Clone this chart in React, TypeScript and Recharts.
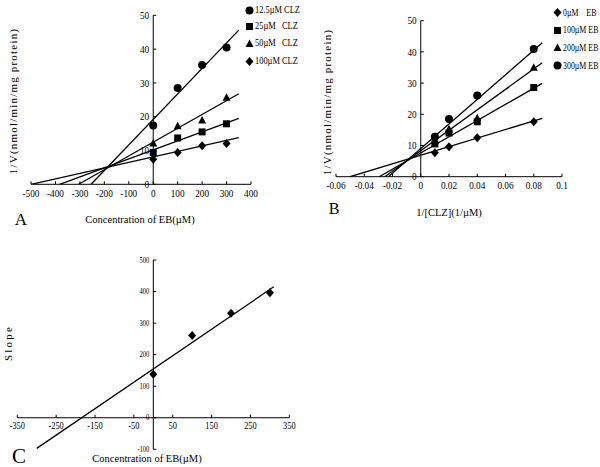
import React from 'react';
import { ScatterChart, Scatter, XAxis, YAxis, ReferenceLine } from 'recharts';

const FONT = '"Liberation Serif", "Times New Roman", serif';

// Panel A: 1/V against EB concentration, one series per CLZ level
const ebConc = [0, 100, 200, 300];
const clz125 = [17.4, 28.5, 35.3, 40.5];
const clz25 = [9.4, 13.7, 15.5, 17.9];
const clz50 = [12.1, 17.2, 18.9, 25.6];
const clz100 = [7.4, 9.4, 11.4, 12.1];
const aXTicks = [-500, -400, -300, -200, -100, 0, 100, 200, 300, 400];
const aYTicks = [0, 10, 20, 30, 40, 50];
// fitted lines as [x, y] end points
const fitClz125 = [[-254, 0], [350, 45.6]];
const fitClz25 = [[-383, 0], [350, 19.5]];
const fitClz50 = [[-305, 0], [350, 26.8]];
const fitClz100 = [[-500, 0], [350, 13.8]];

// Panel B: 1/V against 1/[CLZ], one series per EB level
const invClz = [0.01, 0.02, 0.04, 0.08];
const eb0 = [7.7, 9.6, 12.5, 17.6];
const eb100 = [10.5, 14.0, 17.6, 28.6];
const eb200 = [11.5, 15.2, 18.7, 34.9];
const eb300 = [12.8, 18.5, 26.0, 40.9];
const bXTicks = [-0.06, -0.04, -0.02, 0, 0.02, 0.04, 0.06, 0.08, 0.1];
const bYTicks = [0, 10, 20, 30, 40, 50];
const fitEb0 = [[-0.05, 0], [0.086, 18.7]];
const fitEb100 = [[-0.0294, 0], [0.086, 29.9]];
const fitEb200 = [[-0.0255, 0], [0.086, 36.5]];
const fitEb300 = [[-0.0229, 0], [0.086, 42.9]];

// Panel C: slope replot
const slopeConc = [0, 100, 200, 300];
const slopes = [138, 261, 331, 396];
const cXTicks = [-350, -250, -150, -50, 50, 150, 250, 350];
const cYTicks = [-100, 0, 100, 200, 300, 400, 500];
const fitSlope = [[-300, -97], [310, 415]];

const pts = (xs: number[], ys: number[]) => xs.map((x, i) => ({ x, y: ys[i] }));
const seg = (p: number[][]) => p.map(([x, y]) => ({ x, y }));

const Circle = (p: any) => <circle cx={p.cx} cy={p.cy} r={4} fill="#000" />;
const Square = (p: any) => <rect x={p.cx - 3.5} y={p.cy - 3.5} width={7} height={7} fill="#000" />;
const Triangle = (p: any) => (
  <polygon points={`${p.cx},${p.cy - 4.5} ${p.cx + 4},${p.cy + 3} ${p.cx - 4},${p.cy + 3}`} fill="#000" />
);
const Diamond = (p: any) => (
  <polygon points={`${p.cx},${p.cy - 4.5} ${p.cx + 4},${p.cy} ${p.cx},${p.cy + 4.5} ${p.cx - 4},${p.cy}`} fill="#000" />
);
const NoDot = () => <g />;

interface PanelProps {
  left: number;
  top: number;
  width: number;
  height: number;
  margin: { top: number; right: number; bottom: number; left: number };
  xDomain: [number, number];
  yDomain: [number, number];
  xTicks: number[];
  yTicks: number[];
  xFont: number;
  yFont: number;
  series: { data: { x: number; y: number }[]; shape: any }[];
  fits: { x: number; y: number }[][];
}

// axes cross at zero, so ticks are drawn next to the zero lines rather than the plot edges
function Panel({ left, top, width, height, margin, xDomain, yDomain, xTicks, yTicks, xFont, yFont, series, fits }: PanelProps) {
  const plotW = width - margin.left - margin.right;
  const plotH = height - margin.top - margin.bottom;
  const zeroX = margin.left + ((0 - xDomain[0]) / (xDomain[1] - xDomain[0])) * plotW;
  const zeroY = margin.top + ((yDomain[1] - 0) / (yDomain[1] - yDomain[0])) * plotH;

  const XTick = (props: any) => (
    <g>
      <line x1={props.x} x2={props.x} y1={zeroY} y2={zeroY - 3} stroke="#000" />
      <text
        x={props.x}
        y={zeroY + 4 + xFont * 0.8}
        textAnchor="middle"
        fontSize={xFont}
        fontFamily={FONT}
        fill="#000"
        transform={`translate(${props.x} 0) scale(0.88 1) translate(${-props.x} 0)`}
      >
        {props.payload.value}
      </text>
    </g>
  );
  const YTick = (props: any) => (
    <g>
      <line x1={zeroX} x2={zeroX + 3} y1={props.y} y2={props.y} stroke="#000" />
      <text
        x={zeroX - 4}
        y={props.y + yFont * 0.35}
        textAnchor="end"
        fontSize={yFont}
        fontFamily={FONT}
        fill="#000"
        transform={`translate(${zeroX - 4} 0) scale(0.88 1) translate(${-(zeroX - 4)} 0)`}
      >
        {props.payload.value}
      </text>
    </g>
  );

  return (
    <div style={{ position: 'absolute', left, top }}>
      <ScatterChart width={width} height={height} margin={{ ...margin, left: margin.left - 1, bottom: margin.bottom - 1 }}>
        <XAxis
          type="number"
          dataKey="x"
          domain={xDomain}
          ticks={xTicks}
          interval={0}
          height={1}
          axisLine={false}
          tickLine={false}
          tickSize={0}
          tickMargin={0}
          tick={<XTick />}
          allowDataOverflow
        />
        <YAxis
          type="number"
          dataKey="y"
          domain={yDomain}
          ticks={yTicks}
          interval={0}
          width={1}
          axisLine={false}
          tickLine={false}
          tickSize={0}
          tickMargin={0}
          tick={<YTick />}
          allowDataOverflow
        />
        <ReferenceLine x={0} stroke="#000" strokeWidth={1} />
        <ReferenceLine y={0} stroke="#000" strokeWidth={1} />
        {fits.map((f, i) => (
          <Scatter
            key={'f' + i}
            data={f}
            line={{ stroke: '#000', strokeWidth: 1.3 }}
            shape={NoDot}
            isAnimationActive={false}
          />
        ))}
        {series.map((s, i) => (
          <Scatter key={'s' + i} data={s.data} shape={s.shape} isAnimationActive={false} />
        ))}
      </ScatterChart>
    </div>
  );
}

const textStyle = (cx: number, cy: number, size: number, rotate = false, spacing = 0): React.CSSProperties => ({
  position: 'absolute',
  left: cx,
  top: cy,
  transform: `translate(-50%, -50%)${rotate ? ' rotate(-90deg)' : ''}`,
  fontFamily: FONT,
  fontSize: size,
  letterSpacing: spacing,
  lineHeight: 1,
  whiteSpace: 'pre',
  color: '#000',
});

const Marker = ({ kind }: { kind: string }) => {
  const c = 4.5;
  return (
    <svg width={9} height={9} style={{ display: 'block' }}>
      {kind === 'circle' && <Circle cx={c} cy={c} />}
      {kind === 'square' && <Square cx={c} cy={c} />}
      {kind === 'triangle' && <Triangle cx={c} cy={c + 0.5} />}
      {kind === 'diamond' && <Diamond cx={c} cy={c} />}
    </svg>
  );
};

function LegendBox({ x, rows, gap, squeeze }: { x: number; rows: { kind: string; label: string }[]; gap: number[]; squeeze: number }) {
  return (
    <>
      {rows.map((r, i) => (
        <div key={r.label} style={{ position: 'absolute', left: x - 4.5, top: gap[i] - 5, display: 'flex', alignItems: 'center' }}>
          <Marker kind={r.kind} />
          <span
            style={{
              fontFamily: FONT,
              fontSize: 10.5,
              whiteSpace: 'pre',
              marginLeft: 1,
              lineHeight: 1,
              display: 'inline-block',
              transform: `scaleX(${squeeze})`,
              transformOrigin: 'left center',
            }}
          >
            {r.label}
          </span>
        </div>
      ))}
    </>
  );
}

export default function App() {
  return (
    <div style={{ position: 'absolute', left: 0, top: 0, width: 600, height: 467, background: '#fff', overflow: 'hidden' }}>
      <Panel
        left={0}
        top={0}
        width={300}
        height={230}
        margin={{ top: 15.3, right: 49, bottom: 45.7, left: 31 }}
        xDomain={[-500, 400]}
        yDomain={[0, 50]}
        xTicks={aXTicks}
        yTicks={aYTicks}
        xFont={10.5}
        yFont={10.5}
        fits={[seg(fitClz125), seg(fitClz25), seg(fitClz50), seg(fitClz100)]}
        series={[
          { data: pts(ebConc, clz125), shape: Circle },
          { data: pts(ebConc, clz25), shape: Square },
          { data: pts(ebConc, clz50), shape: Triangle },
          { data: pts(ebConc, clz100), shape: Diamond },
        ]}
      />
      <Panel
        left={300}
        top={0}
        width={300}
        height={230}
        margin={{ top: 20.7, right: 38, bottom: 53.3, left: 36 }}
        xDomain={[-0.06, 0.1]}
        yDomain={[0, 50]}
        xTicks={bXTicks}
        yTicks={bYTicks}
        xFont={10.5}
        yFont={10.5}
        fits={[seg(fitEb0), seg(fitEb100), seg(fitEb200), seg(fitEb300)]}
        series={[
          { data: pts(invClz, eb0), shape: Diamond },
          { data: pts(invClz, eb100), shape: Square },
          { data: pts(invClz, eb200), shape: Triangle },
          { data: pts(invClz, eb300), shape: Circle },
        ]}
      />
      <Panel
        left={0}
        top={230}
        width={300}
        height={237}
        margin={{ top: 30, right: 10.7, bottom: 17.7, left: 17.3 }}
        xDomain={[-350, 350]}
        yDomain={[-100, 500]}
        xTicks={cXTicks}
        yTicks={cYTicks}
        xFont={9.5}
        yFont={7.5}
        fits={[seg(fitSlope)]}
        series={[{ data: pts(slopeConc, slopes), shape: Diamond }]}
      />

      <LegendBox
        x={249}
        squeeze={0.8}
        gap={[10, 26, 43, 61]}
        rows={[
          { kind: 'circle', label: '12.5µM CLZ' },
          { kind: 'square', label: '25µM   CLZ' },
          { kind: 'triangle', label: '50µM   CLZ' },
          { kind: 'diamond', label: '100µM CLZ' },
        ]}
      />
      <LegendBox
        x={557}
        squeeze={0.75}
        gap={[12.5, 30, 47.5, 65.5]}
        rows={[
          { kind: 'diamond', label: '0µM    EB' },
          { kind: 'square', label: '100µM EB' },
          { kind: 'triangle', label: '200µM EB' },
          { kind: 'circle', label: '300µM EB' },
        ]}
      />

      <div style={textStyle(13, 101, 11, true, 1.2)}>1/V(nmol/min/mg protein)</div>
      <div style={textStyle(140, 220, 10.5)}>Concentration of EB(µM)</div>
      <div style={textStyle(21, 219, 17)}>A</div>

      <div style={textStyle(327, 102, 11, true, 1.2)}>1/V(nmol/min/mg protein)</div>
      <div style={textStyle(449, 213, 10.5)}>1/[CLZ](1/µM)</div>
      <div style={textStyle(334, 209, 16)}>B</div>

      <div style={textStyle(7.5, 343, 11, true, 2.2)}>Slope</div>
      <div style={textStyle(147, 459, 10.5)}>Concentration of EB(µM)</div>
      <div style={textStyle(19, 456, 21)}>C</div>
    </div>
  );
}
